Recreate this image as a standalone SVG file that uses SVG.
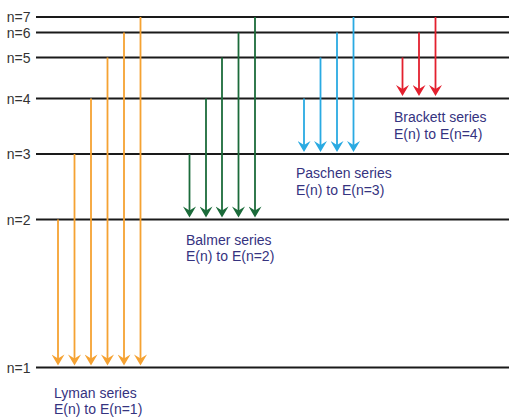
<svg xmlns="http://www.w3.org/2000/svg" width="509" height="419" viewBox="0 0 509 419">
<style>
.lvl{stroke:#1a1a1a;stroke-width:2.2;fill:none}
.nl{font-family:"Liberation Sans","Open Sans",Arial,sans-serif;font-size:14px;fill:#333;text-anchor:end}
.sl{font-family:"Liberation Sans","Open Sans",Arial,sans-serif;font-size:14px;fill:#35337f}
.ly{stroke:#f5a232;stroke-width:1.8;fill:none}
.ba{stroke:#1b6b3a;stroke-width:1.8;fill:none}
.pa{stroke:#2aaae2;stroke-width:1.8;fill:none}
.br{stroke:#e3202e;stroke-width:1.8;fill:none}
</style>
<defs>
<marker id="mLy" markerUnits="userSpaceOnUse" markerWidth="12" markerHeight="13" viewBox="0 0 11 13" refX="7" refY="6.5" orient="auto"><path d="M0,0 L11,6.5 L0,13 L4,6.5 Z" fill="#f5a232"/></marker>
<marker id="mBa" markerUnits="userSpaceOnUse" markerWidth="12" markerHeight="13" viewBox="0 0 11 13" refX="7" refY="6.5" orient="auto"><path d="M0,0 L11,6.5 L0,13 L4,6.5 Z" fill="#1b6b3a"/></marker>
<marker id="mPa" markerUnits="userSpaceOnUse" markerWidth="12" markerHeight="13" viewBox="0 0 11 13" refX="7" refY="6.5" orient="auto"><path d="M0,0 L11,6.5 L0,13 L4,6.5 Z" fill="#2aaae2"/></marker>
<marker id="mBr" markerUnits="userSpaceOnUse" markerWidth="12" markerHeight="13" viewBox="0 0 11 13" refX="7" refY="6.5" orient="auto"><path d="M0,0 L11,6.5 L0,13 L4,6.5 Z" fill="#e3202e"/></marker>
</defs>
<rect width="509" height="419" fill="#fff"/>
<g id="level-7"><line class="lvl" x1="36" y1="17" x2="509" y2="17"/><text class="nl" x="30.5" y="22">n=7</text></g>
<g id="level-6"><line class="lvl" x1="36" y1="32.5" x2="509" y2="32.5"/><text class="nl" x="30.5" y="37.5">n=6</text></g>
<g id="level-5"><line class="lvl" x1="36" y1="57.5" x2="509" y2="57.5"/><text class="nl" x="30.5" y="62.5">n=5</text></g>
<g id="level-4"><line class="lvl" x1="36" y1="98.5" x2="509" y2="98.5"/><text class="nl" x="30.5" y="103.5">n=4</text></g>
<g id="level-3"><line class="lvl" x1="36" y1="154" x2="509" y2="154"/><text class="nl" x="30.5" y="159">n=3</text></g>
<g id="level-2"><line class="lvl" x1="36" y1="219.5" x2="509" y2="219.5"/><text class="nl" x="30.5" y="224.5">n=2</text></g>
<g id="level-1"><line class="lvl" x1="36" y1="367.5" x2="509" y2="367.5"/><text class="nl" x="30.5" y="372.5">n=1</text></g>
<g id="connectors">
<g marker-end="url(#mLy)">
<line class="ly" x1="58" y1="219.5" x2="58" y2="361.5"/>
<line class="ly" x1="74.5" y1="154" x2="74.5" y2="361.5"/>
<line class="ly" x1="91" y1="98.5" x2="91" y2="361.5"/>
<line class="ly" x1="107.5" y1="57.5" x2="107.5" y2="361.5"/>
<line class="ly" x1="124" y1="32.5" x2="124" y2="361.5"/>
<line class="ly" x1="140.5" y1="17" x2="140.5" y2="361.5"/>
</g>
<g marker-end="url(#mBa)">
<line class="ba" x1="189.5" y1="154" x2="189.5" y2="213.5"/>
<line class="ba" x1="206" y1="98.5" x2="206" y2="213.5"/>
<line class="ba" x1="222" y1="57.5" x2="222" y2="213.5"/>
<line class="ba" x1="238.5" y1="32.5" x2="238.5" y2="213.5"/>
<line class="ba" x1="255" y1="17" x2="255" y2="213.5"/>
</g>
<g marker-end="url(#mPa)">
<line class="pa" x1="304" y1="98.5" x2="304" y2="148"/>
<line class="pa" x1="320.5" y1="57.5" x2="320.5" y2="148"/>
<line class="pa" x1="337" y1="32.5" x2="337" y2="148"/>
<line class="pa" x1="353.5" y1="17" x2="353.5" y2="148"/>
</g>
<g marker-end="url(#mBr)">
<line class="br" x1="402.5" y1="57.5" x2="402.5" y2="92"/>
<line class="br" x1="419" y1="32.5" x2="419" y2="92"/>
<line class="br" x1="435.5" y1="17" x2="435.5" y2="92"/>
</g>
</g>
<g id="lyman-label"><text class="sl" x="54" y="397.5">Lyman series</text><text class="sl" x="54" y="413.5">E(n) to E(n=1)</text></g>
<g id="balmer-label"><text class="sl" x="186" y="244.5">Balmer series</text><text class="sl" x="186" y="260.5">E(n) to E(n=2)</text></g>
<g id="paschen-label"><text class="sl" x="296" y="178">Paschen series</text><text class="sl" x="296" y="194.5">E(n) to E(n=3)</text></g>
<g id="brackett-label"><text class="sl" x="394" y="121.5">Brackett series</text><text class="sl" x="394" y="138.5">E(n) to E(n=4)</text></g>
</svg>
